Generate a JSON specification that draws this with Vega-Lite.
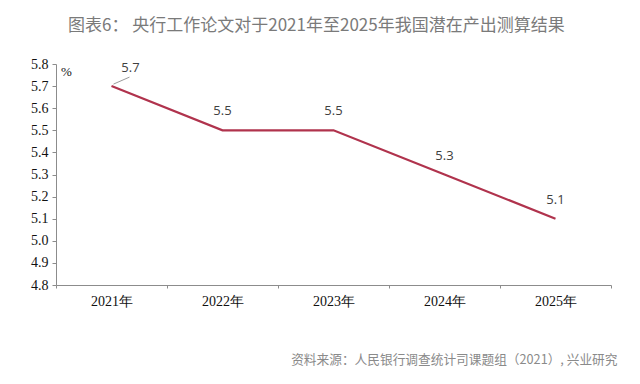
{
  "$schema": "https://vega.github.io/schema/vega-lite/v6.json",
  "autosize": "none",
  "width": 555,
  "height": 221,
  "padding": {"left": 56, "top": 64, "right": 29, "bottom": 99},
  "background": "white",
  "config": {"view": {"stroke": null}},
  "title": {
    "text": "图表6：  央行工作论文对于2021年至2025年我国潜在产出测算结果",
    "anchor": "start",
    "frame": "group",
    "dx": 12,
    "offset": 14,
    "baseline": "middle",
    "font": "Noto Sans CJK SC",
    "fontSize": 17,
    "fontWeight": "normal",
    "color": "#7a7a7a"
  },
  "data": {
    "values": [
      {"year": "2021年", "value": 5.7},
      {"year": "2022年", "value": 5.5},
      {"year": "2023年", "value": 5.5},
      {"year": "2024年", "value": 5.3},
      {"year": "2025年", "value": 5.1}
    ]
  },
  "encoding": {
    "x": {
      "field": "year",
      "type": "ordinal",
      "sort": null,
      "scale": {"type": "band", "paddingInner": 0, "paddingOuter": 0},
      "axis": {
        "title": "资料来源：人民银行调查统计司课题组（2021）, 兴业研究",
        "titleFont": "Noto Sans CJK SC",
        "titleFontSize": 12.7,
        "titleFontWeight": "normal",
        "titleColor": "#8a8a8a",
        "titleAnchor": null,
        "titleAlign": "right",
        "titleBaseline": "middle",
        "titleX": 561,
        "titleY": 74,
        "labelAngle": 0,
        "labelFont": "Liberation Serif",
        "labelFontSize": 14,
        "labelColor": "#111111",
        "labelPadding": 6,
        "tickBand": "extent",
        "tickSize": 3,
        "tickColor": "#8c8c8c",
        "domainColor": "#8c8c8c",
        "grid": false
      }
    },
    "y": {
      "field": "value",
      "type": "quantitative",
      "scale": {"domain": [4.8, 5.8], "zero": false, "nice": false},
      "axis": {
        "values": [4.8, 4.9, 5.0, 5.1, 5.2, 5.3, 5.4, 5.5, 5.6, 5.7, 5.8],
        "format": ".1f",
        "title": "%",
        "titleAngle": 0,
        "titleX": 10,
        "titleY": 7,
        "titleAlign": "center",
        "titleBaseline": "middle",
        "titleFont": "Liberation Serif",
        "titleFontSize": 13,
        "titleFontWeight": "normal",
        "titleColor": "#111111",
        "labelFont": "Liberation Serif",
        "labelFontSize": 14,
        "labelColor": "#111111",
        "labelPadding": 4,
        "tickSize": 4,
        "tickColor": "#8c8c8c",
        "domainColor": "#8c8c8c",
        "grid": false
      }
    }
  },
  "layer": [
    {
      "mark": {"type": "line", "color": "#B0334D", "strokeWidth": 2.2}
    },
    {
      "transform": [{"filter": "datum.year !== '2021年'"}],
      "mark": {"type": "text", "dy": -19, "font": "Open Sans", "fontSize": 13, "color": "#404040"},
      "encoding": {"text": {"field": "value", "type": "quantitative", "format": ".1f"}}
    },
    {
      "transform": [{"filter": "datum.year === '2021年'"}],
      "mark": {"type": "text", "dx": 19, "dy": -18, "font": "Open Sans", "fontSize": 13, "color": "#404040"},
      "encoding": {"text": {"field": "value", "type": "quantitative", "format": ".1f"}}
    },
    {
      "transform": [{"filter": "datum.year === '2021年'"}],
      "mark": {"type": "rule", "color": "#9a9a9a", "strokeWidth": 1, "xOffset": 2, "yOffset": -2, "x2Offset": 18, "y2Offset": -9},
      "encoding": {
        "x2": {"field": "year"},
        "y2": {"field": "value"}
      }
    }
  ]
}
